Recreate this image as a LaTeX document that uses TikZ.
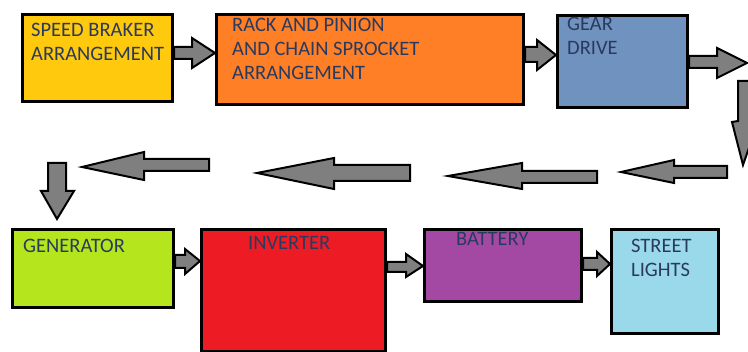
\documentclass[tikz,border=0pt]{standalone}
\usepackage{fontspec}
\setmainfont{Carlito}
\definecolor{txtc}{HTML}{2A3A5E}
\definecolor{cgold}{HTML}{FFC90E}
\definecolor{corange}{HTML}{FF7F27}
\definecolor{cblue}{HTML}{7092BE}
\definecolor{clime}{HTML}{B5E61D}
\definecolor{cred}{HTML}{ED1C24}
\definecolor{cpurple}{HTML}{A349A4}
\definecolor{cturq}{HTML}{99D9EA}
\definecolor{cgray}{HTML}{7F7F7F}
\tikzset{
  box/.style={draw=black, line width=3pt, anchor=north west, inner sep=0pt},
  lbl/.style={anchor=base west, inner sep=0pt, align=left, text=txtc,
    font=\fontsize{20.5}{24}\selectfont},
  blk/.style={draw=black, fill=cgray, line width=2pt, line join=miter}
}
\begin{document}
\begin{tikzpicture}[x=1pt,y=-1pt]
\path[clip] (0,0) rectangle (748,352);
\fill[white] (0,0) rectangle (748,352);
% boxes
\node[box, fill=cgold, minimum width=150pt, minimum height=87pt] (sb) at (21,13) {};
\node[box, fill=corange, minimum width=307pt, minimum height=90pt] (rk) at (215,13) {};
\node[box, fill=cblue, minimum width=130pt, minimum height=92pt] (gd) at (556,14) {};
\node[box, fill=clime, minimum width=161pt, minimum height=78pt] (gen) at (11,228) {};
\node[box, fill=cred, minimum width=184pt, minimum height=122pt] (inv) at (200,228) {};
\node[box, fill=cpurple, minimum width=157pt, minimum height=72pt] (bat) at (423,228) {};
\node[box, fill=cturq, minimum width=107pt, minimum height=104pt] (sl) at (610,228) {};
% labels (anchored at the baseline of their last line)
\node[lbl] (tsb) at (31,61) {SPEED BRAKER\\ARRANGEMENT};
\node[lbl] (trk) at (232,80) {RACK AND PINION\\AND CHAIN SPROCKET\\ARRANGEMENT};
\node[lbl] (tgd) at (567,55) {GEAR\\DRIVE};
\node[lbl] (tgen) at (23,253) {GENERATOR};
\node[lbl] (tinv) at (248,250) {INVERTER};
\node[lbl] (tbat) at (456,246) {BATTERY};
\node[lbl] (tsl) at (631,277) {STREET\\LIGHTS};
% block arrows, top row
\draw[blk] (sb.east |- 0,47) -- (192,47) -- (192,38) -- (rk.west |- 0,53) -- (192,68) -- (192,59) -- (sb.east |- 0,59) -- cycle;
\draw[blk] (rk.east |- 0,47) -- (537,47) -- (537,40) -- (gd.west |- 0,55) -- (537,70) -- (537,62) -- (rk.east |- 0,62) -- cycle;
\draw[blk] (gd.east |- 0,56) -- (717,56) -- (717,48) -- (747,63) -- (717,78) -- (717,68) -- (gd.east |- 0,68) -- cycle;
% down arrow at right
\draw[blk] (738,81) -- (754,81) -- (754,122) -- (758,122) -- (743,165) -- (732,122) -- (738,121) -- cycle;
% leftward arrows
\draw[blk] (727,166) -- (674,166) -- (674,160) -- (621,172) -- (674,183) -- (674,178) -- (727,178) -- cycle;
\draw[blk] (597,171) -- (522,171) -- (522,163) -- (448,176) -- (522,189) -- (522,183) -- (597,183) -- cycle;
\draw[blk] (410,165) -- (334,165) -- (334,158) -- (257,173) -- (334,189) -- (334,181) -- (410,181) -- cycle;
\draw[blk] (209,159) -- (144,159) -- (144,152) -- (82,167) -- (144,180) -- (144,171) -- (209,171) -- cycle;
% down arrow at left
\draw[blk] (48,163) -- (66,163) -- (66,191) -- (74,191) -- (57,219) -- (41,191) -- (48,191) -- cycle;
% bottom row
\draw[blk] (gen.east |- 0,255) -- (185,255) -- (185,249) -- (inv.west |- 0,261) -- (185,274) -- (185,268) -- (gen.east |- 0,268) -- cycle;
\draw[blk] (inv.east |- 0,262) -- (406,262) -- (406,254) -- (bat.west |- 0,266) -- (406,277) -- (406,272) -- (inv.east |- 0,272) -- cycle;
\draw[blk] (bat.east |- 0,258) -- (597,258) -- (597,252) -- (sl.west |- 0,264) -- (597,276) -- (597,270) -- (bat.east |- 0,270) -- cycle;
\end{tikzpicture}
\end{document}
